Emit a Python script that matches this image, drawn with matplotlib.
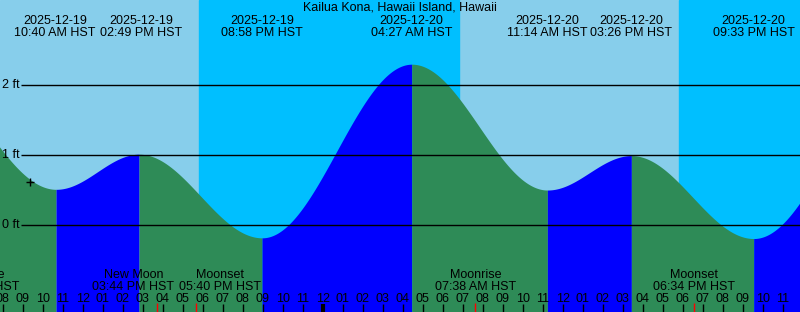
import numpy as np
import matplotlib.pyplot as plt
from matplotlib.transforms import offset_copy

plt.rcParams['font.family'] = ['Liberation Sans', 'DejaVu Sans']
plt.rcParams['font.size'] = 9

# tide extremes, hours counted from 2025-12-19 00:00 HST
tide_hours = [3.5, 10 + 40/60, 14 + 49/60, 20 + 58/60, 28 + 27/60,
              35 + 14/60, 39 + 26/60, 45 + 33/60, 53.28]
tide_ft = [2.30, 0.51, 1.01, -0.18, 2.29, 0.50, 0.99, -0.19, 2.30]
tide_dates = ['', '2025-12-19', '2025-12-19', '2025-12-19', '2025-12-20',
              '2025-12-20', '2025-12-20', '2025-12-20', '']
tide_times = ['', '10:40 AM HST', '02:49 PM HST', '08:58 PM HST', '04:27 AM HST',
              '11:14 AM HST', '03:26 PM HST', '09:33 PM HST', '']

# sunset / sunrise
sunset_hours = [17 + 49/60, 41 + 49/60]
sunrise_hours = [30 + 49/60]

# moon events
moon_hours = [6 + 49/60, 15 + 44/60, 17 + 40/60, 31 + 38/60, 42 + 34/60]
moon_names = ['Moonrise', 'New Moon', 'Moonset', 'Moonrise', 'Moonset']
moon_times = ['06:49 AM HST', '03:44 PM HST', '05:40 PM HST', '07:38 AM HST', '06:34 PM HST']

now_hour, now_ft = 9.37, 0.62
grid_ft = [0, 1, 2]

W, H = 800, 312
x0, x1 = 7.865, 47.865
y0, y1 = -1.235, 3.203

# label nudges (pixels) so neighbouring labels do not collide
tide_shift = [0, -1, 2, 0, 0, 0, 0, 0, 0]
moon_shift = [0, -24, 24, 0, 0]

fig = plt.figure(figsize=(W / 100, H / 100), dpi=100)
ax = fig.add_axes([0, 0, 1, 1])
ax.set_xlim(x0, x1)
ax.set_ylim(y0, y1)
ax.axis('off')

def yp(pix):
    return 1 - pix / H

# day / night background
ax.axvspan(x0, x1, color='#87CEEB', zorder=0)
ax.axvspan(sunset_hours[0], sunrise_hours[0], color='#00BFFF', zorder=0)
ax.axvspan(sunset_hours[1], x1, color='#00BFFF', zorder=0)

# tide curve between extremes: blue rising, green falling
for i in range(len(tide_hours) - 1):
    ta, tb = tide_hours[i], tide_hours[i + 1]
    ha, hb = tide_ft[i], tide_ft[i + 1]
    t = np.linspace(ta, tb, 200)
    h = hb + (ha - hb) * (1 + np.cos(np.pi * (t - ta) / (tb - ta))) / 2
    col = '#0000FF' if hb > ha else '#2E8B57'
    ax.fill_between(t, y0, h, color=col, lw=0, zorder=1)

# horizontal grid lines
xt = ax.get_xaxis_transform()
yt = ax.get_yaxis_transform()
for g in grid_ft:
    ax.hlines(g, 21 / W, 1, transform=yt, color='black', lw=1, zorder=3)
    ax.text(19.5 / W, g, f'{g} ft', transform=yt, ha='right', va='center', zorder=4)

ax.plot([now_hour], [now_ft], marker='+', color='black', ms=6, mew=1, zorder=4)

# title and tide labels
fig.text(0.5, yp(11), 'Kailua Kona, Hawaii Island, Hawaii', ha='center', va='baseline')
for th, d, tm, s in zip(tide_hours, tide_dates, tide_times, tide_shift):
    if d:
        tr = offset_copy(xt, fig=fig, x=s, units='dots')
        ax.text(th, yp(24), d, transform=tr, ha='center', va='baseline', zorder=4)
        ax.text(th, yp(36), tm, transform=tr, ha='center', va='baseline', zorder=4)

# moon labels and red ticks
for mh, n, tm, s in zip(moon_hours, moon_names, moon_times, moon_shift):
    tr = offset_copy(xt, fig=fig, x=s, units='dots')
    ax.text(mh, yp(277.5), n, transform=tr, ha='center', va='baseline', zorder=4)
    ax.text(mh, yp(289.5), tm, transform=tr, ha='center', va='baseline', zorder=4)
    ax.vlines(mh, 0, yp(303), transform=xt, color='red', lw=1, zorder=4)

# hour ticks and labels
for hr in range(8, 48):
    lbl = f'{(hr % 12) or 12:02d}'
    ax.text(hr, yp(302), lbl, transform=xt, ha='center', va='baseline', zorder=4)
    lw = 3 if hr % 24 == 0 else 1
    ax.vlines(hr, 0, yp(304), transform=xt, color='black', lw=lw, zorder=4)

fig.savefig('out.png', dpi=100)
